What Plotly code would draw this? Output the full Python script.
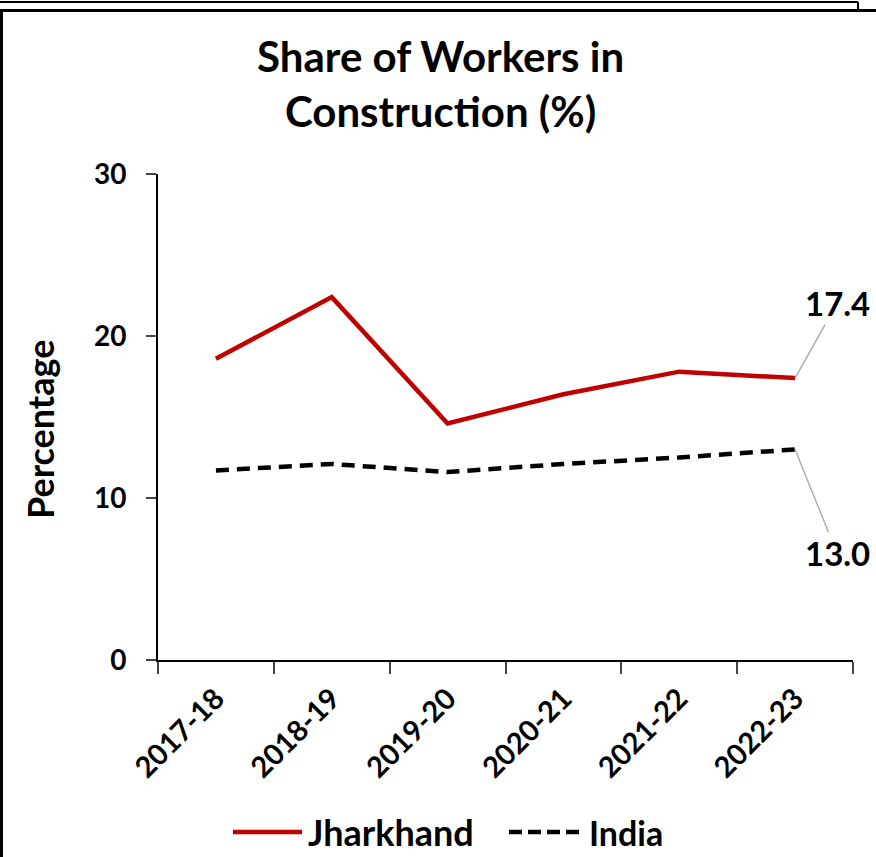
import plotly.graph_objects as go

years = ["2017-18", "2018-19", "2019-20", "2020-21", "2021-22", "2022-23"]
jharkhand = [18.6, 22.4, 14.6, 16.4, 17.8, 17.4]
india = [11.7, 12.1, 11.6, 12.1, 12.5, 13.0]
y_ticks = [0, 10, 20, 30]

FONT = "Lato"
W, H = 876, 857
L, R, T, B = 158, 23, 174, 197
PW, PH = W - L - R, H - T - B


def px(x):
    return (x - L) / PW


def py(y):
    return (H - B - y) / PH


fig = go.Figure()
fig.add_trace(go.Scatter(x=years, y=jharkhand, name="Jharkhand", mode="lines",
                         line=dict(color="#C00000", width=4.5)))
fig.add_trace(go.Scatter(x=years, y=india, name="India", mode="lines",
                         line=dict(color="#000000", width=4.5, dash="13px,8px")))

# data labels
lab_font = dict(family=FONT, size=33, color="black", weight="bold")
fig.add_annotation(x=years[-1], y=jharkhand[-1], text=f"{jharkhand[-1]:.1f}",
                   showarrow=True, arrowhead=0, arrowwidth=1.3, arrowcolor="#A6A6A6",
                   ax=42, ay=-75, font=lab_font)
fig.add_annotation(x=years[-1], y=india[-1], text=f"{india[-1]:.1f}",
                   showarrow=True, arrowhead=0, arrowwidth=1.3, arrowcolor="#A6A6A6",
                   ax=42, ay=104, font=lab_font)

# legend (drawn manually to match long line samples)
ly = py(832)
fig.add_shape(type="line", xref="paper", yref="paper", x0=px(233), x1=px(302), y0=ly, y1=ly,
              line=dict(color="#C00000", width=4.5))
fig.add_annotation(xref="paper", yref="paper", x=px(306), y=ly, text="Jharkhand", showarrow=False,
                   xanchor="left", yanchor="middle",
                   font=dict(family=FONT, size=36, color="black", weight="bold"))
fig.add_shape(type="line", xref="paper", yref="paper", x0=px(509), x1=px(582), y0=ly, y1=ly,
              line=dict(color="#000000", width=4.5, dash="13px,6px"))
fig.add_annotation(xref="paper", yref="paper", x=px(587), y=ly, text="India", showarrow=False,
                   xanchor="left", yanchor="middle",
                   font=dict(family=FONT, size=34, color="black", weight="bold"))

# y-axis title
fig.add_annotation(xref="paper", yref="paper", x=px(40), y=py(430), text="Percentage",
                   showarrow=False, textangle=-90, xanchor="center", yanchor="middle",
                   font=dict(family=FONT, size=36, color="black", weight="bold"))

# outer frame
fig.add_shape(type="rect", xref="paper", yref="paper", x0=px(1.5), x1=px(900), y0=py(10.5), y1=py(900),
              line=dict(color="black", width=3), layer="below")
fig.add_shape(type="line", xref="paper", yref="paper", x0=px(0), x1=px(858), y0=py(2), y1=py(2),
              line=dict(color="black", width=2))
fig.add_shape(type="line", xref="paper", yref="paper", x0=px(858), x1=px(858), y0=py(2), y1=py(10),
              line=dict(color="black", width=2))

fig.update_layout(
    width=W, height=H,
    margin=dict(l=L, r=R, t=T, b=B),
    paper_bgcolor="white", plot_bgcolor="white",
    showlegend=False,
    title=dict(text="Share of Workers in<br>Construction (%)", x=0.503, xanchor="center",
               y=1 - 72 / H, yanchor="middle",
               font=dict(family=FONT, size=42, color="black", weight="bold")),
    font=dict(family=FONT, color="black"),
)
fig.update_xaxes(type="category", tickson="boundaries", ticks="outside", ticklen=12, tickwidth=2,
                 showline=True, linecolor="black", linewidth=2, showgrid=False, tickangle=-45,
                 ticklabelstandoff=8,
                 tickfont=dict(family=FONT, size=29, color="black", weight="bold"),
                 range=[-0.5, 5.5])
fig.update_yaxes(range=[0, 30], tickvals=y_ticks, ticks="outside", ticklen=10, tickwidth=2,
                 showline=True, linecolor="black", linewidth=2, showgrid=False, zeroline=False,
                 ticklabelstandoff=14,
                 tickfont=dict(family=FONT, size=28, color="black", weight="bold"))

fig.write_html("out.html", config={"displayModeBar": False},
               post_script="document.body.style.margin='0';document.body.style.overflow='hidden';")
